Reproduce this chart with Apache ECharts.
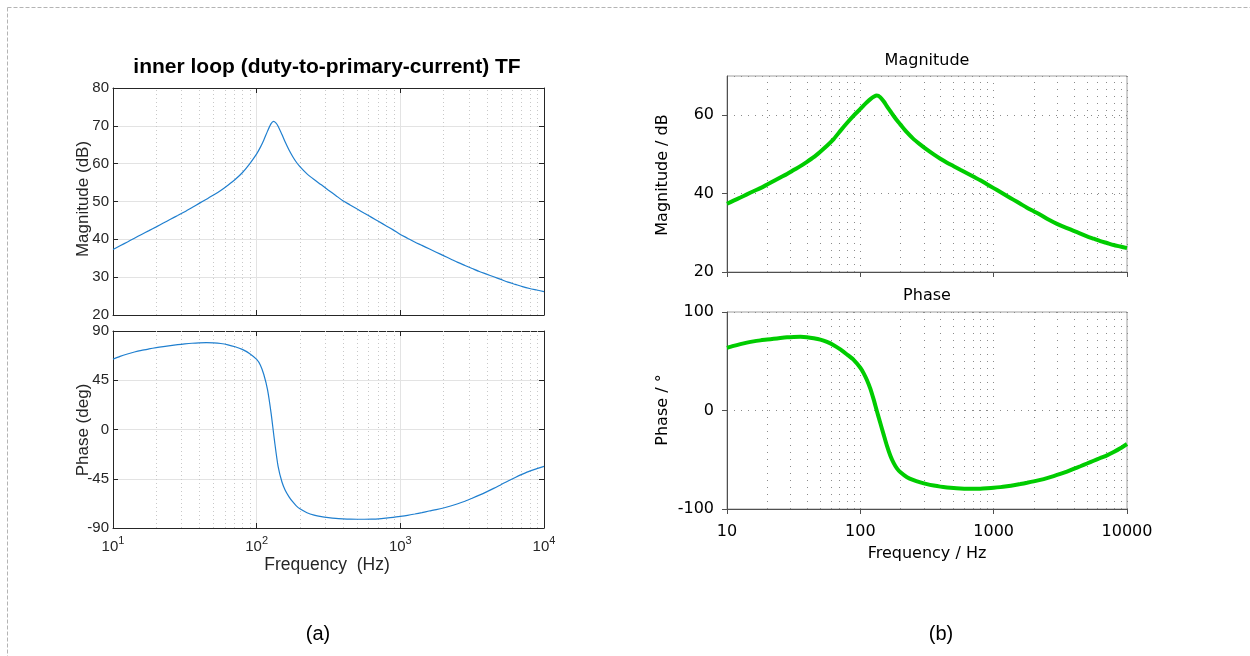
<!DOCTYPE html>
<html>
<head>
<meta charset="utf-8">
<script src="https://cdn.jsdelivr.net/npm/echarts@6/dist/echarts.min.js"></script>
<style>
html,body{margin:0;padding:0;background:#fff;}
#c{width:1250px;height:656px;}
</style>
</head>
<body>
<div id="c"></div>
<script>
// ---------- data ----------
var leftMagFreq = [10,11.2,12.6,14.1,15.8,17.8,20,22.4,25.1,28.2,31.6,35.5,39.8,44.7,50.1,56.2,63.1,70.8,79.4,89.1,100,106,112,119,126,131,136,141,150,158,168,178,188,200,224,251,282,316,355,398,447,501,562,631,708,794,891,1000,1122,1259,1413,1585,1778,1995,2239,2512,2818,3162,3548,3981,4467,5012,5623,6310,7079,7943,8913,10000];
var leftMagDb   = [37.3,38.3,39.3,40.3,41.3,42.3,43.3,44.3,45.3,46.3,47.3,48.4,49.5,50.6,51.7,52.9,54.3,55.8,57.6,59.9,62.6,64.3,66.2,68.6,70.6,71.2,70.8,69.9,67.7,65.7,63.6,61.9,60.5,59.2,57.3,55.8,54.4,53.0,51.6,50.2,49.1,48.0,46.9,45.8,44.7,43.6,42.5,41.3,40.3,39.3,38.4,37.5,36.6,35.7,34.8,33.9,33.1,32.3,31.5,30.8,30.1,29.4,28.7,28.1,27.5,27.0,26.6,26.2];

var leftPhFreq = [10,11.2,12.6,14.1,15.8,17.8,20,22.4,25.1,28.2,31.6,35.5,39.8,44.7,50.1,56.2,63.1,70.8,79.4,89.1,100,106,112,119,126,133,141,150,158,168,178,188,200,224,251,282,316,355,398,447,501,562,631,708,794,891,1000,1122,1259,1413,1585,1778,1995,2239,2512,2818,3162,3548,3981,4467,5012,5623,6310,7079,7943,8913,10000];
var leftPhDeg  = [64.2,66.8,69.0,70.8,72.3,73.6,74.8,75.8,76.7,77.5,78.2,78.8,79.2,79.4,79.2,78.6,77.4,75.6,73.2,69.5,64.0,59.0,50.5,36.5,15.0,-10.0,-33.7,-48.0,-55.5,-61.5,-66.0,-69.5,-72.5,-76.0,-78.2,-79.6,-80.5,-81.2,-81.6,-81.9,-82.0,-82.0,-81.9,-81.6,-81.0,-80.3,-79.4,-78.4,-77.2,-75.9,-74.5,-73.2,-71.7,-69.9,-67.8,-65.5,-62.8,-60.0,-57.0,-53.8,-50.4,-47.0,-43.8,-40.8,-38.0,-35.8,-33.7];

var rightMagFreq = [10,11.2,12.6,14.1,15.8,17.8,20,22.4,25.1,28.2,31.6,35.5,39.8,44.7,50.1,56.2,63.1,70.8,79.4,89.1,100,106,112,119,126,133,141,150,158,168,178,188,200,224,251,282,316,355,398,447,501,562,631,708,794,891,1000,1122,1259,1413,1585,1778,1995,2239,2512,2818,3162,3548,3981,4467,5012,5623,6310,7079,7943,8913,10000];
var rightMagDb   = [37.4,38.2,39.0,39.8,40.6,41.4,42.3,43.2,44.1,45.0,46.0,47.0,48.1,49.3,50.7,52.2,53.9,56.0,58.0,59.9,61.6,62.5,63.3,64.1,64.7,65.0,64.6,63.5,62.3,61.0,59.8,58.7,57.6,55.6,53.9,52.5,51.2,50.0,48.9,47.9,47.0,46.1,45.2,44.3,43.4,42.4,41.4,40.4,39.4,38.4,37.4,36.4,35.5,34.6,33.6,32.7,31.9,31.2,30.5,29.8,29.1,28.5,27.9,27.4,26.9,26.5,26.1];

var rightPhFreq = [10,11.2,12.6,14.1,15.8,17.8,20,22.4,25.1,28.2,31.6,35.5,39.8,44.7,50.1,56.2,63.1,70.8,79.4,89.1,100,106,112,119,126,133,141,150,158,168,178,188,200,224,251,282,316,355,398,447,501,562,631,708,794,891,1000,1122,1259,1413,1585,1778,1995,2239,2512,2818,3162,3548,3981,4467,5012,5623,6310,7079,7943,8913,10000];
var rightPhDeg  = [63.6,65.6,67.4,68.9,70.2,71.2,72.0,72.8,73.6,74.3,74.7,74.8,74.4,73.4,72.0,69.6,66.3,62.0,56.9,51.4,43.4,37.7,31.0,22.0,11.0,-0.5,-12.5,-25.0,-35.5,-46.0,-53.5,-58.8,-62.8,-67.8,-70.8,-73.0,-74.8,-76.2,-77.3,-78.1,-78.7,-79.1,-79.4,-79.5,-79.4,-79.0,-78.5,-77.8,-76.9,-75.9,-74.7,-73.4,-72.0,-70.4,-68.6,-66.6,-64.4,-62.0,-59.3,-56.6,-53.8,-51.0,-48.2,-45.5,-42.2,-38.4,-34.0];

var minorFreqs = [20,30,40,50,60,70,80,90,200,300,400,500,600,700,800,900,2000,3000,4000,5000,6000,7000,8000,9000];

function pairs(xs, ys){ return xs.map(function(x,i){ return [x, ys[i]]; }); }

// ---------- styles ----------
var matFont = 'Liberation Sans, Arial, sans-serif';
var winFont = 'DejaVu Sans, Tahoma, sans-serif';
var matAxisColor = '#262626';
var winAxisColor = '#505050';

function supLabel(v){
  var e = Math.round(Math.log10(v));
  return '{b|10}{s|' + e + '}';
}

var chart = echarts.init(document.getElementById('c'), null, {renderer:'canvas'});

function leftX(gi, show){
  return {
    type:'log', logBase:10, gridIndex:gi, min:10, max:10000, position:'bottom',
    axisLine:{show:true, onZero:false, lineStyle:{color:matAxisColor, width:1}},
    axisTick:{show:true, inside:true, length:5, lineStyle:{color:matAxisColor}},
    axisLabel:{show:show, margin:7, formatter:supLabel, color:'#262626',
      rich:{ b:{fontSize:15, fontFamily:matFont, color:'#262626'},
             s:{fontSize:11, fontFamily:matFont, color:'#262626', padding:[0,0,12,0]} } },
    splitLine:{show:true, lineStyle:{color:'#e3e3e3', width:1}}
  };
}
function leftXTop(gi){
  return {
    type:'log', logBase:10, gridIndex:gi, min:10, max:10000, position:'top',
    axisLine:{show:true, onZero:false, lineStyle:{color:matAxisColor, width:1}},
    axisTick:{show:true, inside:true, length:5, lineStyle:{color:matAxisColor}},
    axisLabel:{show:false}, splitLine:{show:false}
  };
}
function leftY(gi, min, max, interval, pos, show){
  return {
    type:'value', gridIndex:gi, min:min, max:max, interval:interval, position:pos,
    axisLine:{show:true, onZero:false, lineStyle:{color:matAxisColor, width:1}},
    axisTick:{show:true, inside:true, length:5, lineStyle:{color:matAxisColor}},
    axisLabel:{show:show, fontSize:15, fontFamily:matFont, color:'#262626', margin:4},
    splitLine:{show:pos==='left', lineStyle:{color:'#e3e3e3', width:1}}
  };
}
function rightX(gi, show){
  return {
    type:'log', logBase:10, gridIndex:gi, min:10, max:10000,
    axisLine:{show:true, onZero:false, lineStyle:{color:winAxisColor, width:1}},
    axisTick:{show:true, inside:false, length:5, lineStyle:{color:winAxisColor}},
    axisLabel:{show:show, fontSize:16, fontFamily:winFont, color:'#000', margin:15,
      formatter:function(v){ return String(Math.round(v)); }},
    splitLine:{show:true, lineStyle:{color:'#8a8a8a', width:1, type:[1,6]}}
  };
}
function rightY(gi, min, max, interval){
  return {
    type:'value', gridIndex:gi, min:min, max:max, interval:interval,
    axisLine:{show:true, onZero:false, lineStyle:{color:winAxisColor, width:1}},
    axisTick:{show:true, inside:false, length:5, lineStyle:{color:winAxisColor}},
    axisLabel:{show:true, fontSize:16, fontFamily:winFont, color:'#000', margin:13, showMaxLabel: max===100},
    splitLine:{show:true, lineStyle:{color:'#8a8a8a', width:1, type:[1,6]}}
  };
}

function minorGridSeries(xi, yi, color, dash){
  return {
    type:'line', xAxisIndex:xi, yAxisIndex:yi, data:[], silent:true,
    markLine:{ silent:true, symbol:['none','none'], animation:false,
      label:{show:false},
      lineStyle:{color:color, width:1, type:dash},
      data: minorFreqs.map(function(f){ return {xAxis:f}; }) }
  };
}

function curve(xi, yi, xs, ys, color, width){
  return {type:'line', xAxisIndex:xi, yAxisIndex:yi, data:pairs(xs,ys), showSymbol:false,
    smooth:0.25, lineStyle:{color:color, width:width}, z:5};
}

var option = {
  animation:false,
  backgroundColor:'#fff',
  grid:[
    {left:113, top:88,  width:431, height:227, show:false},
    {left:113, top:331, width:431, height:197, show:false},
    {left:727, top:76,  width:400, height:196, show:true, borderColor:'#a0a0a0', borderWidth:1, backgroundColor:'transparent'},
    {left:727, top:312, width:400, height:197, show:true, borderColor:'#a0a0a0', borderWidth:1, backgroundColor:'transparent'}
  ],
  xAxis:[
    leftX(0,false), leftXTop(0),
    leftX(1,true),  leftXTop(1),
    rightX(2,false), rightX(3,true)
  ],
  yAxis:[
    leftY(0,20,80,10,'left',true), leftY(0,20,80,10,'right',false),
    leftY(1,-90,90,45,'left',true), leftY(1,-90,90,45,'right',false),
    rightY(2,20,70,20), rightY(3,-100,100,100)
  ],
  series:[
    minorGridSeries(0,0,'#c8c8c8',[1,3]),
    minorGridSeries(2,2,'#c8c8c8',[1,3]),
    minorGridSeries(4,4,'#8a8a8a',[1,6]),
    minorGridSeries(5,5,'#8a8a8a',[1,6]),
    curve(0,0,leftMagFreq,leftMagDb,'#1f7fcf',1.2),
    curve(2,2,leftPhFreq,leftPhDeg,'#1f7fcf',1.2),
    curve(4,4,rightMagFreq,rightMagDb,'#00cc00',4),
    curve(5,5,rightPhFreq,rightPhDeg,'#00cc00',4)
  ],
  graphic:[
    // dashed frame
    {type:'line', shape:{x1:7.5,y1:7.5,x2:1250,y2:7.5}, style:{stroke:'#b4b4b4', lineWidth:1, lineDash:[4,2]}, silent:true},
    {type:'line', shape:{x1:7.5,y1:7.5,x2:7.5,y2:656}, style:{stroke:'#b4b4b4', lineWidth:1, lineDash:[4,2]}, silent:true},
    // left panel texts
    {type:'text', x:327, y:67, style:{text:'inner loop (duty-to-primary-current) TF', font:'bold 21px ' + matFont, fill:'#000', textAlign:'center', textVerticalAlign:'middle', align:'center', verticalAlign:'middle'}},
    {type:'text', x:83, y:199, rotation:Math.PI/2, style:{text:'Magnitude (dB)', font:'17px ' + matFont, fill:'#262626', textAlign:'center', textVerticalAlign:'middle', align:'center', verticalAlign:'middle'}},
    {type:'text', x:83, y:430, rotation:Math.PI/2, style:{text:'Phase (deg)', font:'17px ' + matFont, fill:'#262626', textAlign:'center', textVerticalAlign:'middle', align:'center', verticalAlign:'middle'}},
    {type:'text', x:327, y:565, style:{text:'Frequency  (Hz)', font:'17.5px ' + matFont, fill:'#262626', textAlign:'center', textVerticalAlign:'middle', align:'center', verticalAlign:'middle'}},
    // right panel texts
    {type:'text', x:927, y:61, style:{text:'Magnitude', font:'16px ' + winFont, fill:'#000', textAlign:'center', textVerticalAlign:'middle', align:'center', verticalAlign:'middle'}},
    {type:'text', x:927, y:296, style:{text:'Phase', font:'16px ' + winFont, fill:'#000', textAlign:'center', textVerticalAlign:'middle', align:'center', verticalAlign:'middle'}},
    {type:'text', x:927, y:554, style:{text:'Frequency / Hz', font:'16px ' + winFont, fill:'#000', textAlign:'center', textVerticalAlign:'middle', align:'center', verticalAlign:'middle'}},
    {type:'text', x:663, y:175, rotation:Math.PI/2, style:{text:'Magnitude / dB', font:'16px ' + winFont, fill:'#000', textAlign:'center', textVerticalAlign:'middle', align:'center', verticalAlign:'middle'}},
    {type:'text', x:663, y:410, rotation:Math.PI/2, style:{text:'Phase / °', font:'16px ' + winFont, fill:'#000', textAlign:'center', textVerticalAlign:'middle', align:'center', verticalAlign:'middle'}},
    // captions
    {type:'text', x:318, y:634, style:{text:'(a)', font:'20px ' + matFont, fill:'#000', textAlign:'center', textVerticalAlign:'middle', align:'center', verticalAlign:'middle'}},
    {type:'text', x:941, y:634, style:{text:'(b)', font:'20px ' + matFont, fill:'#000', textAlign:'center', textVerticalAlign:'middle', align:'center', verticalAlign:'middle'}}
  ]
};
chart.setOption(option);
</script>
</body>
</html>
